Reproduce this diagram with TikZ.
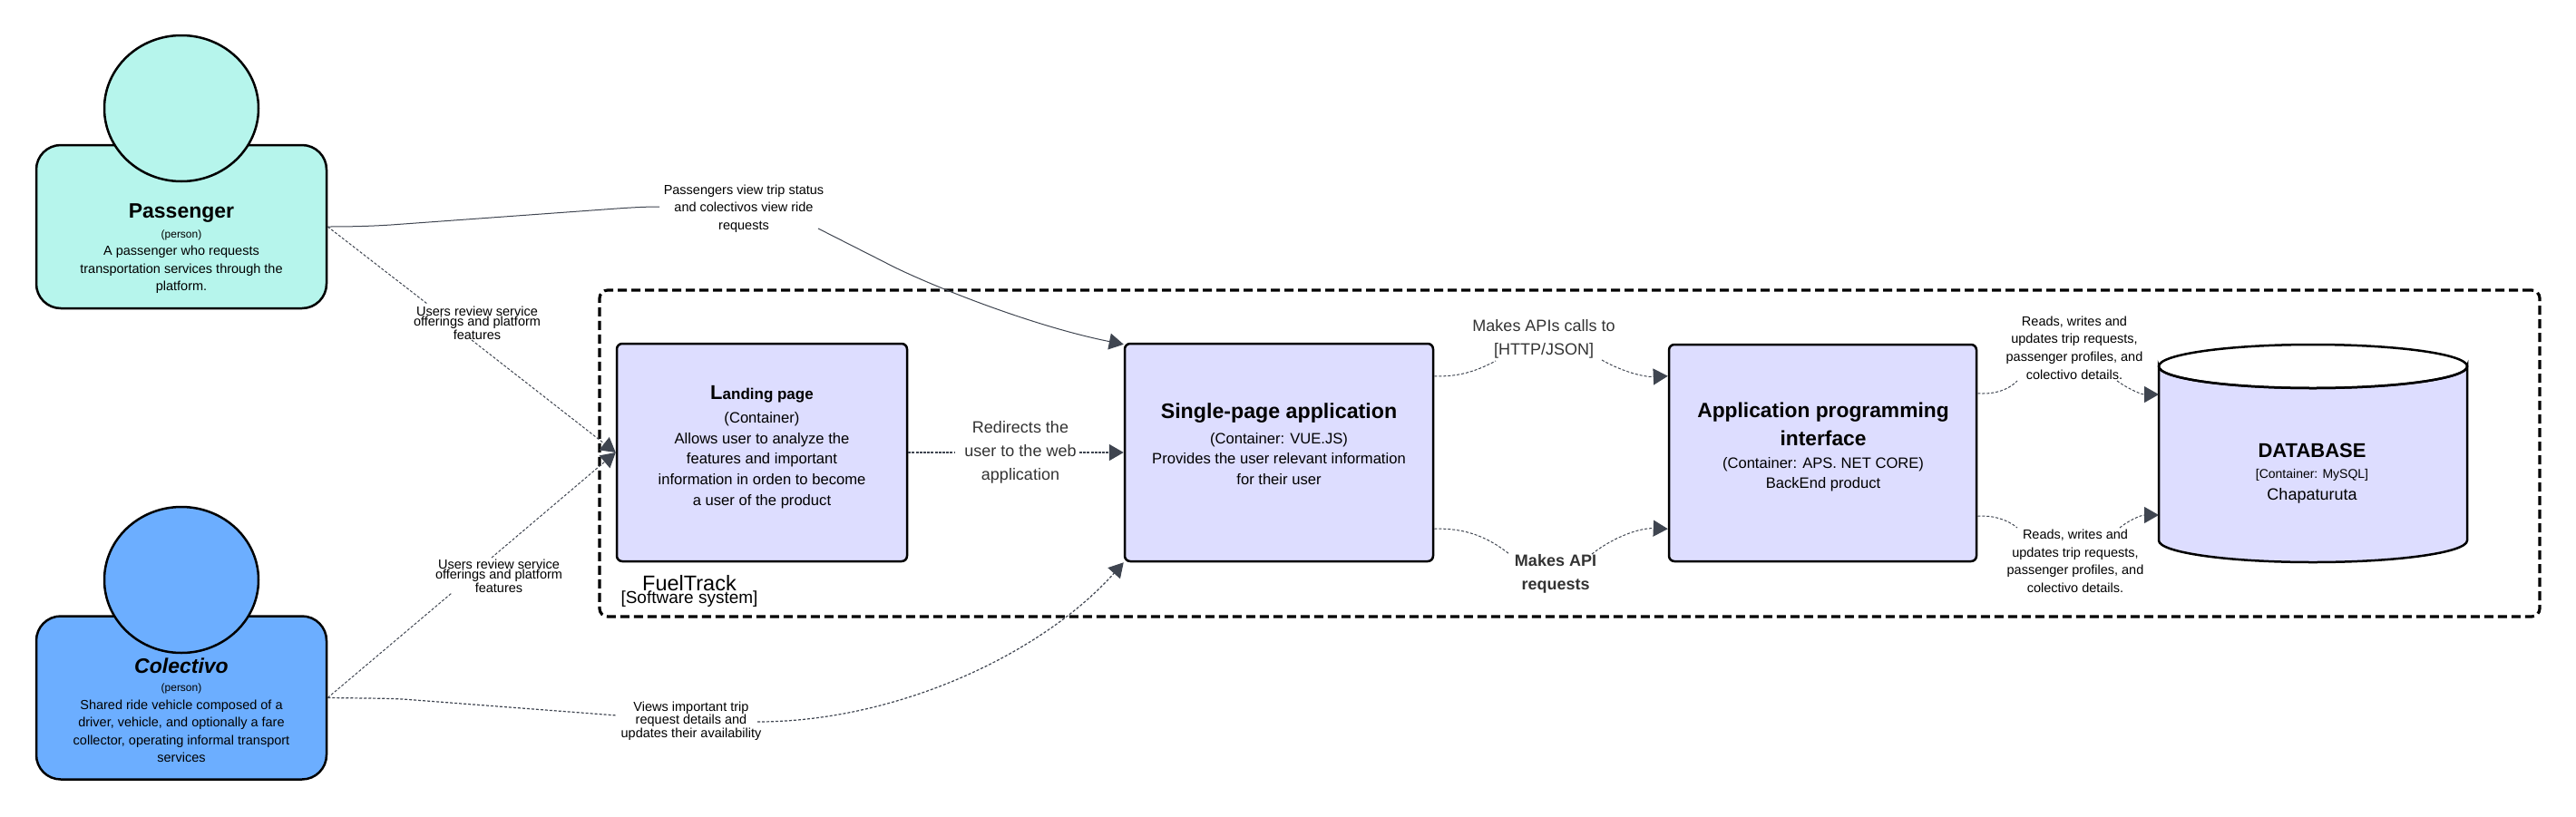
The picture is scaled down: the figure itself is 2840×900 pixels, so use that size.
\documentclass[tikz,border=0pt]{standalone}
\usepackage{fontspec}
\setmainfont{Liberation Sans}
\usetikzlibrary{arrows.meta,calc,shapes.geometric}
\definecolor{inkline}{HTML}{3F4550}
\definecolor{labelgrey}{HTML}{333333}
\definecolor{mint}{HTML}{B6F5EC}
\definecolor{skyb}{HTML}{6CAEFF}
\definecolor{lilac}{HTML}{DDDDFF}
\tikzset{
  bodybox/.style={draw=black,line width=2.5pt,rounded corners=27pt,inner sep=0pt,minimum width=320pt,minimum height=180pt},
  headoval/.style={draw=black,line width=2.5pt,ellipse,inner sep=0pt,minimum width=170pt,minimum height=161pt},
  contbox/.style={draw=black,fill=lilac,line width=2.5pt,rounded corners=6pt,inner sep=0pt},
  txtbase/.style={align=center,inner sep=0pt,text=black},
  txtname/.style={txtbase,font=\fontsize{23}{27}\selectfont\bfseries},
  txttiny/.style={txtbase,font=\fontsize{12}{14}\selectfont},
  txtsmall/.style={txtbase,font=\fontsize{14.5}{19.4}\selectfont},
  txtmid/.style={txtbase,font=\fontsize{16.6}{22.6}\selectfont},
  edgetxt/.style={txtbase,font=\fontsize{14.5}{19.6}\selectfont},
  tighttxt/.style={txtbase,font=\fontsize{14.5}{11.5}\selectfont},
  bigedge/.style={txtbase,text=labelgrey,font=\fontsize{18}{26}\selectfont},
  arrowend/.style={-{Triangle[length=16pt,width=18pt]},inkline},
  flowline/.style={inkline,line width=1pt,dash pattern=on 3pt off 2pt},
  flow/.style={arrowend,line width=1pt,dash pattern=on 3pt off 2pt},
  solidflow/.style={arrowend,line width=1pt},
  boldflow/.style={arrowend,line width=1.8pt,dash pattern=on 3pt off 1.2pt},
}
\begin{document}
\begin{tikzpicture}[x=1pt,y=-1pt]
\useasboundingbox (0,0) rectangle (2840,900);
\fill[white] (0,0) rectangle (2840,900);
% boundary
\node[draw=black,line width=3.2pt,dash pattern=on 10pt off 5pt,rounded corners=9pt,inner sep=0pt,minimum width=2139pt,minimum height=360pt] (B) at (1730.5,500) {};
\node[txtbase,font=\fontsize{23.5}{26}\selectfont] (Bt) at (760,643) {FuelTrack};
\node[txtbase,font=\fontsize{19}{20}\selectfont] (Bs) at (760,661) {[Software system]};
% persons
\node[bodybox,fill=mint] (P) at (200,250) {};
\node[headoval,fill=mint] (Ph) at (200,119.5) {};
\node[txtname] (Pt) at (200,235) {Passenger};
\node[txttiny] (Ps) at (200,259) {(person)};
\node[txtsmall] (Pd) at (200,297.5) {A passenger who requests\\transportation services through the\\platform.};
\node[bodybox,fill=skyb] (C) at (200,769.5) {};
\node[headoval,fill=skyb] (Ch) at (200,639.5) {};
\node[txtname,font=\fontsize{23}{27}\selectfont\bfseries\itshape] (Ct) at (200,734) {Colectivo};
\node[txttiny] (Cs) at (200,759) {(person)};
\node[txtsmall] (Cd) at (200,806.5) {Shared ride vehicle composed of a\\driver, vehicle, and optionally a fare\\collector, operating informal transport\\services};
% containers
\node[contbox,minimum width=320pt,minimum height=240pt] (L) at (840,499) {};
\node[txtbase,font=\bfseries] (Lt) at (840,435) {\fontsize{22}{26}\selectfont L\fontsize{17}{26}\selectfont anding page};
\node[txtmid] (Ld) at (840,507.5) {(Container)\\Allows user to analyze the\\features and important\\information in orden to become\\a user of the product};
\node[contbox,minimum width=340pt,minimum height=240pt] (S) at (1410,499) {};
\node[txtbase,font=\fontsize{23.2}{28}\selectfont\bfseries] (St) at (1410,456) {Single-page application};
\node[txtmid] (Sd) at (1410,506) {(Container: VUE.JS)\\Provides the user relevant information\\for their user};
\node[contbox,minimum width=339pt,minimum height=239pt] (A) at (2009.5,499.5) {};
\node[txtbase,font=\fontsize{22.8}{31}\selectfont\bfseries] (At) at (2010,467.5) {Application programming\\interface};
\node[txtmid] (Ad) at (2010,523) {(Container: APS. NET CORE)\\BackEnd product};
% database
\path[draw=black,fill=lilac,line width=2.5pt] (2380,404) -- (2380,596) arc[start angle=180,end angle=360,x radius=170pt,y radius=24pt] -- (2720,404) arc[start angle=0,end angle=-180,x radius=170pt,y radius=24pt] -- cycle;
\node[draw=black,line width=2.5pt,ellipse,inner sep=0pt,minimum width=340pt,minimum height=48pt] (D) at (2550,404) {};
\node[txtbase,font=\fontsize{22}{28}\selectfont\bfseries] (Dt) at (2549,497) {DATABASE};
\node[txtbase,font=\fontsize{14}{16}\selectfont] (Ds) at (2549,524) {[Container: MySQL]};
\node[txtbase,font=\fontsize{18}{20}\selectfont] (Dd) at (2549,547) {Chapaturuta};
% edge labels
\node[edgetxt] (t1) at (820,230) {Passengers view trip status\\and colectivos view ride\\requests};
\node[tighttxt] (t3) at (526,356) {Users review service\\offerings and platform\\features};
\node[tighttxt] (t4) at (550,635) {Users review service\\offerings and platform\\features};
\node[tighttxt] (t5) at (762,795) {Views important trip\\request details and\\updates their availability};
\node[bigedge] (t6) at (1125,499) {Redirects the\\user to the web\\application};
\node[bigedge] (t7) at (1702,374) {Makes APIs calls to\\{}[HTTP/JSON]};
\node[bigedge,font=\fontsize{18}{26}\selectfont\bfseries] (t8) at (1715,633) {Makes API\\requests};
\node[edgetxt] (t9) at (2287,383.5) {Reads, writes and\\updates trip requests,\\passenger profiles, and\\colectivo details.};
\node[edgetxt] (t10) at (2288,619) {Reads, writes and\\updates trip requests,\\passenger profiles, and\\colectivo details.};
% connectors
\draw[inkline,line width=1pt] (P.east) .. controls (395,250) and (415,249) .. (431,248) -- (680,230) .. controls (695,229) and (710,228) .. ($(t1.center)+(-93,-2)$);
\draw[solidflow] ($(t1.center)+(82,22)$) -- (975,289) .. controls (1010,308) and (1130,358) .. ([yshift=-2pt]S.north west);
\draw[flowline] (P.east) -- ($(t3.center)+(-55,-21)$);
\draw[flow] ($(t3.center)+(-6,19)$) -- (L.west);
\draw[flowline] (C.east) -- ($(t4.center)+(-52,19)$);
\draw[flow] ($(t4.center)+(-8,-20)$) -- (L.west);
\draw[flowline,line width=1.2pt] (C.east) .. controls (400,770) and (425,770) .. (444,771) -- ($(t5.center)+(-82,-6)$);
\draw[flow,line width=1.2pt] ($(t5.center)+(73,1)$) .. controls (990,796) and (1150,720) .. (S.south west);
\draw[flowline,line width=1.8pt,dash pattern=on 3pt off 1.2pt] (L.east) -- ($(t6.center)+(-72,0)$);
\draw[boldflow] ($(t6.center)+(65,0)$) -- (S.west);
\draw[flowline] ($(S.north east)+(0,37)$) .. controls (1610,416) and (1630,408) .. ($(t7.center)+(-53,24)$);
\draw[flow] ($(t7.center)+(64,23)$) .. controls (1785,408) and (1810,416) .. ($(A.north west)+(0,36)$);
\draw[flowline] ($(S.south east)+(0,-37)$) .. controls (1615,582) and (1640,592) .. ($(t8.center)+(-51,-22)$);
\draw[flow] ($(t8.center)+(40,-22)$) .. controls (1775,595) and (1805,582) .. ($(A.south west)+(0,-37)$);
\draw[flowline] ($(A.north east)+(0,55)$) .. controls (2195,435) and (2212,432) .. ($(t9.center)+(-63,36.5)$);
\draw[flow] ($(t9.center)+(47,36.5)$) .. controls (2345,428) and (2360,435) .. (2380,435);
\draw[flowline] ($(A.south east)+(0,-51)$) .. controls (2195,568) and (2212,572) .. ($(t10.center)+(-64,-37)$);
\draw[flow] ($(t10.center)+(49,-37)$) .. controls (2345,575) and (2360,568) .. (2380,568);
\end{tikzpicture}
\end{document}
